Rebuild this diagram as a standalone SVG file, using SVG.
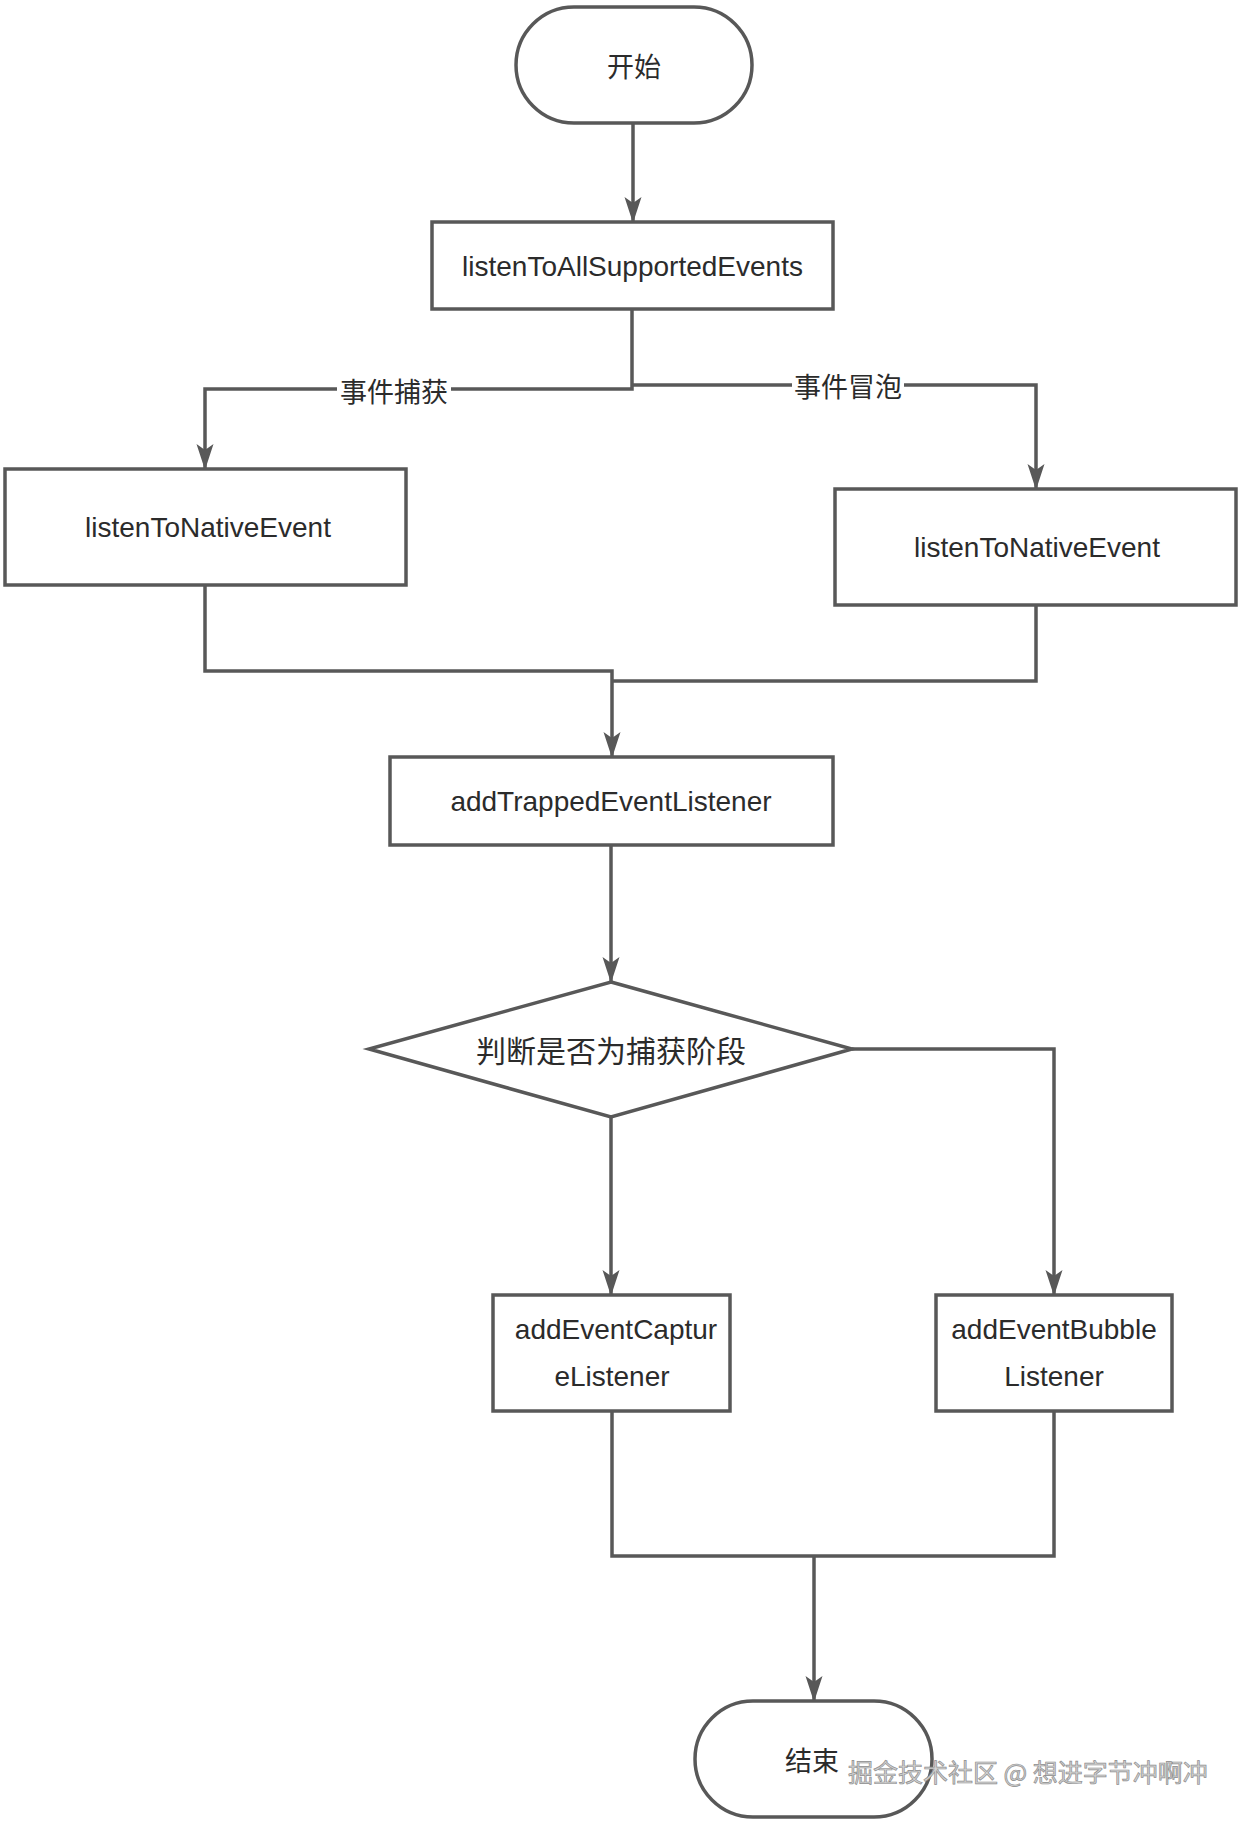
<svg xmlns="http://www.w3.org/2000/svg" width="1245" height="1824" viewBox="0 0 1245 1824">
  <style>
    .shape { fill: #ffffff; stroke: #585858; stroke-width: 3.5; }
    .conn { fill: none; stroke: #585858; stroke-width: 3.5; }
    .txt { font-family: "Liberation Sans", "Noto Sans CJK SC", sans-serif; font-size: 28px; fill: #2b2b2b; text-anchor: middle; dominant-baseline: central; }
    .cjk { font-family: "Noto Sans CJK SC", sans-serif; fill: #2b2b2b; text-anchor: middle; dominant-baseline: central; }
    .lbl { font-size: 27px; }
    .bg { fill: #ffffff; stroke: none; }
    .wm { font-family: "Noto Sans CJK SC", sans-serif; font-size: 25px; fill: #d2d2d2; stroke: #8e8e8e; stroke-width: 0.7; }
  </style>
  <defs>
    <marker id="arrow" markerUnits="userSpaceOnUse" viewBox="0 0 26 18" refX="25" refY="9" markerWidth="26" markerHeight="18" orient="auto">
      <path d="M0,0.5 L26,9 L0,17.5 L6,9 Z" fill="#585858"/>
    </marker>
  </defs>
  <rect width="1245" height="1824" fill="#ffffff"/>

  <g id="connectors">
    <path class="conn" d="M633,123 V222" marker-end="url(#arrow)"/>
    <path class="conn" d="M632,309 V389 H205 V469" marker-end="url(#arrow)"/>
    <path class="conn" d="M632,385 H1036 V489" marker-end="url(#arrow)"/>
    <path class="conn" d="M205,585 V671 H612 V757" marker-end="url(#arrow)"/>
    <path class="conn" d="M1036,605 V681 H612"/>
    <path class="conn" d="M611,845 V982" marker-end="url(#arrow)"/>
    <path class="conn" d="M611,1117 V1295" marker-end="url(#arrow)"/>
    <path class="conn" d="M852,1049 H1054 V1295" marker-end="url(#arrow)"/>
    <path class="conn" d="M612,1411 V1556 H1054 V1411"/>
    <path class="conn" d="M814,1556 V1701" marker-end="url(#arrow)"/>
    <g id="label-capture">
      <rect class="bg" x="337" y="374" width="114" height="32"/>
      <text class="cjk lbl" x="394" y="390">事件捕获</text>
    </g>
    <g id="label-bubble">
      <rect class="bg" x="792" y="369" width="112" height="32"/>
      <text class="cjk lbl" x="848" y="385">事件冒泡</text>
    </g>
  </g>

  <g id="start">
    <rect class="shape" x="516" y="7" width="236" height="116" rx="58" ry="58"/>
    <text class="cjk lbl" x="634" y="65">开始</text>
  </g>

  <g id="listenToAllSupportedEvents">
    <rect class="shape" x="432" y="222" width="401" height="87"/>
    <text class="txt" x="632.5" y="266">listenToAllSupportedEvents</text>
  </g>

  <g id="listenToNativeEvent-capture">
    <rect class="shape" x="5" y="469" width="401" height="116"/>
    <text class="txt" x="208" y="527">listenToNativeEvent</text>
  </g>

  <g id="listenToNativeEvent-bubble">
    <rect class="shape" x="835" y="489" width="401" height="116"/>
    <text class="txt" x="1037" y="547">listenToNativeEvent</text>
  </g>

  <g id="addTrappedEventListener">
    <rect class="shape" x="390" y="757" width="443" height="88"/>
    <text class="txt" x="611" y="801">addTrappedEventListener</text>
  </g>

  <g id="decision">
    <polygon class="shape" points="611,982 852,1049 611,1117 369,1049"/>
    <text class="cjk" x="611" y="1049" font-size="30">判断是否为捕获阶段</text>
  </g>

  <g id="addEventCaptureListener">
    <rect class="shape" x="493" y="1295" width="237" height="116"/>
    <text class="txt" x="616" y="1329">addEventCaptur</text>
    <text class="txt" x="612" y="1376">eListener</text>
  </g>

  <g id="addEventBubbleListener">
    <rect class="shape" x="936" y="1295" width="236" height="116"/>
    <text class="txt" x="1054" y="1329">addEventBubble</text>
    <text class="txt" x="1054" y="1376">Listener</text>
  </g>

  <g id="end">
    <rect class="shape" x="695" y="1701" width="237" height="116" rx="58" ry="58"/>
    <text class="cjk lbl" x="812" y="1759">结束</text>
  </g>

  <text class="wm" x="848" y="1782">掘金技术社区 @ 想进字节冲啊冲</text>
</svg>
